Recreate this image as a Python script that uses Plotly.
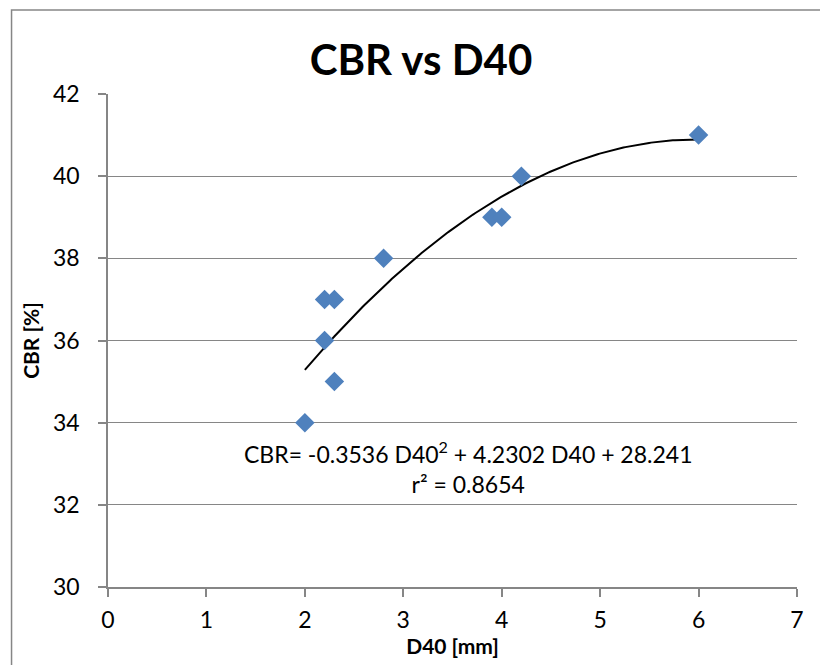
import numpy as np
import plotly.graph_objects as go

# Measured samples
d40_mm = [2.0, 2.2, 2.2, 2.3, 2.3, 2.8, 3.9, 4.0, 4.2, 6.0]
cbr_pct = [34, 36, 37, 37, 35, 38, 39, 39, 40, 41]

# Polynomial trendline coefficients (order 2) and fit quality
coef_a = -0.3536
coef_b = 4.2302
coef_c = 28.241
r_squared = 0.8654

x_ticks = [0, 1, 2, 3, 4, 5, 6, 7]
y_ticks = [30, 32, 34, 36, 38, 40, 42]

FONT = "Lato"
GRID = "#868686"

fit_x = np.linspace(min(d40_mm), max(d40_mm), 200)
fit_y = coef_a * fit_x ** 2 + coef_b * fit_x + coef_c

fig = go.Figure()

fig.add_trace(go.Scatter(
    x=fit_x, y=fit_y, mode="lines",
    line=dict(color="black", width=2),
    hoverinfo="skip", showlegend=False,
))

fig.add_trace(go.Scatter(
    x=d40_mm, y=cbr_pct, mode="markers",
    marker=dict(symbol="diamond", size=15, color="#4F81BD",
                line=dict(width=0)),
    showlegend=False,
))

eq_text = (f"CBR= {coef_a:.4f} D40<sup>2</sup> + {coef_b:.4f} D40 + {coef_c:.3f}"
           f"<br>r² = {r_squared:.4f}")
fig.add_annotation(
    x=3.66, y=32.9, xref="x", yref="y",
    text=eq_text, showarrow=False,
    font=dict(family=FONT, size=23, color="black"),
    align="center",
)

# Chart-area frame
fig.add_shape(
    type="rect", xref="paper", yref="paper",
    x0=-0.1400, x1=1.05, y0=-0.2, y1=1.1704,
    line=dict(color=GRID, width=1.5), layer="below",
)

fig.update_layout(
    width=820, height=665,
    margin=dict(l=108, r=23, t=94, b=78),
    paper_bgcolor="white", plot_bgcolor="white",
    font=dict(family=FONT, color="black"),
    title=dict(
        text="<b>CBR vs D40</b>",
        x=421 / 820, xanchor="center", y=1 - 60 / 665, yanchor="middle",
        font=dict(family=FONT, size=42, color="black"),
    ),
    xaxis=dict(
        range=[0, 7], tickvals=x_ticks, showgrid=False, zeroline=False,
        showline=True, linecolor=GRID, linewidth=1.5,
        ticks="outside", ticklen=8, tickcolor=GRID, tickwidth=1.5,
        ticklabelstandoff=4,
        tickfont=dict(family=FONT, size=23, color="black"),
        title=dict(text="<b>D40 [mm]</b>", standoff=4,
                   font=dict(family=FONT, size=21, color="black")),
    ),
    yaxis=dict(
        range=[30, 42], tickvals=y_ticks, showgrid=True, gridcolor=GRID,
        gridwidth=1.2, zeroline=False,
        showline=True, linecolor=GRID, linewidth=1.5,
        ticks="outside", ticklen=8, tickcolor=GRID, tickwidth=1.5,
        ticklabelstandoff=14,
        tickfont=dict(family=FONT, size=23, color="black"),
        title=dict(text="<b>CBR [%]</b>", standoff=8,
                   font=dict(family=FONT, size=21, color="black")),
    ),
)

fig.write_html("out.html")
